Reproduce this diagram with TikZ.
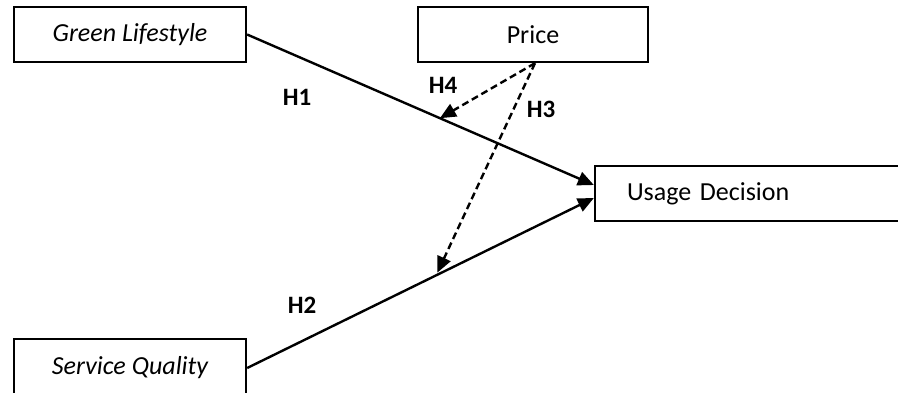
\documentclass[tikz,border=0pt]{standalone}
\usepackage{fontspec}
\setmainfont{Carlito}
\usetikzlibrary{arrows.meta,calc}
\begin{document}
\begin{tikzpicture}[x=1pt,y=-1pt,
  box/.style={draw,line width=2.3pt,inner sep=0pt,font=\fontsize{26}{30}\selectfont},
  conn/.style={line width=2.4pt,-{Triangle[length=16pt,width=14pt]}},
  dconn/.style={conn,dash pattern=on 7pt off 4pt},
  hyp/.style={font=\fontsize{25}{30}\selectfont\bfseries}]
\useasboundingbox (0,0) rectangle (898,392);
\clip (0,0) rectangle (898,392);
\node[box,minimum width=232pt,minimum height=55pt] (GL) at (130,34.5) {\itshape Green Lifestyle};
\node[box,minimum width=230pt,minimum height=55pt] (PR) at (533,34.5) {Price};
\node[box,minimum height=55pt,inner xsep=32pt,text width=246pt,align=left] (UD) at (750,193.5) {Usage Decision};
\node[box,minimum width=232pt,minimum height=58pt] (SQ) at (130,368) {\itshape Service Quality};
\coordinate (UDa) at ([yshift=8.5pt]UD.west);
\coordinate (UDb) at ([yshift=-4.5pt]UD.west);
\draw[conn] (GL.east) -- (UDa);
\draw[conn] (SQ.east) -- (UDb);
\coordinate (h4) at ($(GL.east)!0.556!(UDa)$);
\coordinate (h3) at ($(SQ.east)!0.545!(UDb)$);
\coordinate (ps) at ([xshift=2pt]PR.south);
\draw[dconn] (ps) -- (h4);
\draw[dconn,shorten >=3pt] (ps) -- (h3);
\node[hyp] (H1) at (297,97) {H1};
\node[hyp] (H2) at (302,305) {H2};
\node[hyp] (H3) at (541,109) {H3};
\node[hyp] (H4) at (443,85) {H4};
\end{tikzpicture}
\end{document}
